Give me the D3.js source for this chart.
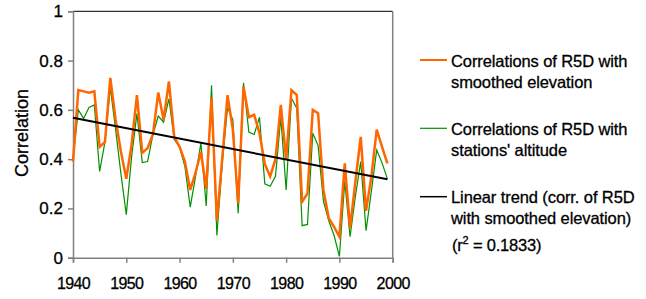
<!DOCTYPE html>
<html>
<head>
<meta charset="utf-8">
<script src="https://cdn.jsdelivr.net/npm/d3@7"></script>
<style>
  body { margin: 0; background: #fff; }
  text { font-family: "Liberation Sans", Arial, sans-serif; fill: #000; stroke: #000; stroke-width: 0.3px; }
</style>
</head>
<body>
<div id="chart"></div>
<script>
// Years and the two correlation series
const years = d3.range(1940, 2000);
const smoothedElev = [
    0.39, 0.68, 0.675, 0.67, 0.675, 0.45, 0.47, 0.73, 0.56, 0.43,
    0.32, 0.46, 0.66, 0.425, 0.445, 0.50, 0.67, 0.56, 0.715, 0.49,
    0.45, 0.39, 0.275, 0.345, 0.43, 0.28, 0.65, 0.15, 0.40, 0.66,
    0.52, 0.22, 0.695, 0.57, 0.58, 0.505, 0.38, 0.33, 0.40, 0.62,
    0.40, 0.68, 0.66, 0.227, 0.26, 0.60, 0.586, 0.275, 0.16, 0.125,
    0.085, 0.383, 0.12, 0.31, 0.49, 0.19, 0.33, 0.52, 0.45, 0.383
];
const stationsAlt = [
    0.40, 0.60, 0.565, 0.61, 0.62, 0.35, 0.47, 0.69, 0.52, 0.34,
    0.175, 0.41, 0.585, 0.386, 0.39, 0.50, 0.575, 0.55, 0.645, 0.48,
    0.45, 0.37, 0.205, 0.33, 0.465, 0.21, 0.70, 0.09, 0.38, 0.61,
    0.56, 0.18, 0.71, 0.51, 0.50, 0.57, 0.30, 0.29, 0.33, 0.57,
    0.275, 0.647, 0.607, 0.13, 0.135, 0.505, 0.455, 0.23, 0.15, 0.09,
    0.005, 0.31, 0.085, 0.25, 0.39, 0.11, 0.27, 0.437, 0.385, 0.32
];
// Linear trend end points (start year, end year)
const trendYears = [1940, 1999];
const trendValues = [0.568, 0.318];

const xTicks = [1940, 1950, 1960, 1970, 1980, 1990, 2000];
const yTicks = [0, 0.2, 0.4, 0.6, 0.8, 1];

const svg = d3.select('#chart')
    .append('svg')
    .attr('width', 646)
    .attr('height', 299);

const plot = { left: 73, right: 392.7, top: 11.3, bottom: 257.7 };

const x = d3.scaleLinear().domain([1940, 2000]).range([plot.left, plot.right]);
const y = d3.scaleLinear().domain([0, 1]).range([plot.bottom, plot.top]);

// plot frame: top and right edges
svg.append('line')
    .attr('x1', plot.left).attr('x2', plot.right)
    .attr('y1', plot.top).attr('y2', plot.top)
    .attr('stroke', '#000').attr('stroke-width', 1);
svg.append('line')
    .attr('x1', plot.right).attr('x2', plot.right)
    .attr('y1', plot.top).attr('y2', plot.bottom)
    .attr('stroke', '#808080').attr('stroke-width', 1.5);

const yAxis = svg.append('g')
    .attr('transform', 'translate(' + plot.left + ',0)')
    .call(d3.axisLeft(y).tickValues(yTicks).tickSize(5).tickPadding(5)
        .tickFormat(d => d === 0 ? '0' : d === 1 ? '1' : d3.format('.1f')(d)));

const xAxis = svg.append('g')
    .attr('transform', 'translate(0,' + plot.bottom + ')')
    .call(d3.axisBottom(x).tickValues(xTicks).tickSize(5).tickPadding(14.5)
        .tickFormat(d3.format('d')));

[yAxis, xAxis].forEach(g => {
    g.select('.domain').attr('stroke', '#808080').attr('stroke-width', 1.5);
    g.selectAll('.tick line').attr('stroke', '#808080').attr('stroke-width', 1.5);
    g.selectAll('.tick text')
        .style('font-family', '"Liberation Sans", Arial, sans-serif')
        .attr('fill', '#000');
});
yAxis.selectAll('.tick text').style('font-size', '17px');
xAxis.selectAll('.tick text').style('font-size', '16px').style('letter-spacing', '-0.6px');

svg.append('text')
    .attr('transform', 'translate(28,133) rotate(-90)')
    .attr('text-anchor', 'middle')
    .style('font-size', '18px')
    .text('Correlation');

const line = d3.line()
    .x((d, i) => x(years[i]))
    .y(d => y(d));

svg.append('path')
    .datum(stationsAlt)
    .attr('fill', 'none')
    .attr('stroke', '#009000')
    .attr('stroke-width', 1.2)
    .attr('d', line);

svg.append('path')
    .datum(smoothedElev)
    .attr('fill', 'none')
    .attr('stroke', '#ff6600')
    .attr('stroke-width', 2.5)
    .attr('d', line);

svg.append('line')
    .attr('x1', x(trendYears[0])).attr('y1', y(trendValues[0]))
    .attr('x2', x(trendYears[1])).attr('y2', y(trendValues[1]))
    .attr('stroke', '#000')
    .attr('stroke-width', 2);

// legend
const legend = [
    { color: '#ff6600', width: 2, ly: 60, lines: ['Correlations of R5D with', 'smoothed elevation'], base: 66.7 },
    { color: '#009000', width: 1.2, ly: 128.3, lines: ['Correlations of R5D with', "stations' altitude"], base: 135 },
    { color: '#000', width: 1.5, ly: 196.7, lines: ['Linear trend (corr. of R5D', 'with smoothed elevation)'], base: 203.3 }
];

legend.forEach(item => {
    svg.append('line')
        .attr('x1', 420).attr('x2', 447)
        .attr('y1', item.ly).attr('y2', item.ly)
        .attr('stroke', item.color)
        .attr('stroke-width', item.width);
    item.lines.forEach((t, i) => {
        svg.append('text')
            .attr('x', 451)
            .attr('y', item.base + i * 20.8)
            .style('font-size', '16.5px')
            .style('letter-spacing', '-0.1px')
            .text(t);
    });
});

const r2 = svg.append('text')
    .attr('x', 452)
    .attr('y', 250.5)
    .style('font-size', '16.5px')
    .style('letter-spacing', '-0.2px');
r2.append('tspan').text('(r');
r2.append('tspan').attr('dy', -7).style('font-size', '11px').text('2');
r2.append('tspan').attr('dy', 7).text(' = 0.1833)');
</script>
</body>
</html>
